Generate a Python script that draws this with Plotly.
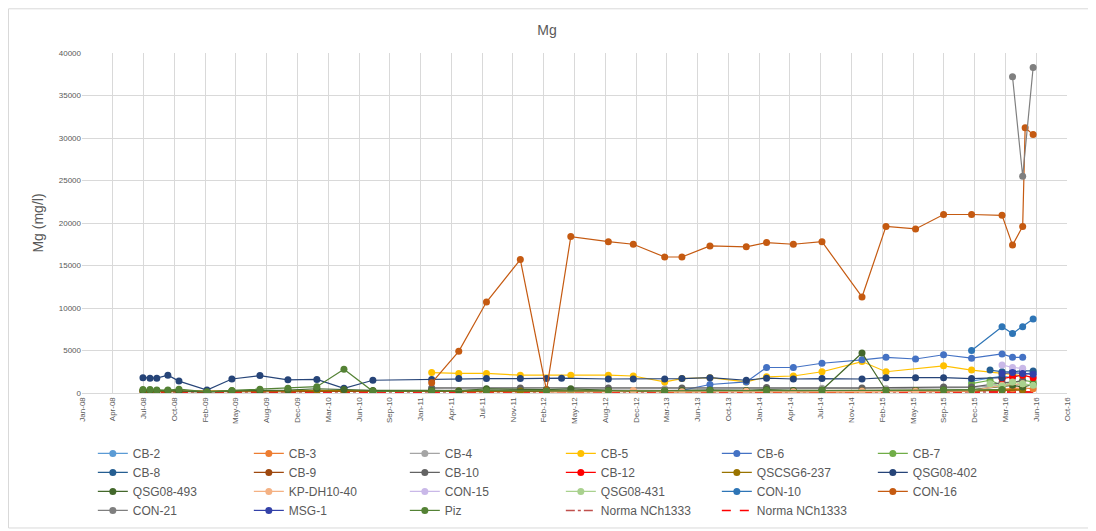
import plotly.graph_objects as go

# fechas de muestreo (campañas)
fechas_ini = ["2008-07-17", "2008-08-09", "2008-08-31", "2008-10-06", "2008-11-11", "2009-02-10",
              "2009-05-02", "2009-08-01", "2009-10-31", "2010-02-02", "2010-05-01", "2010-08-03"]
fechas_fin = ["2011-02-10", "2011-05-09", "2011-08-07", "2011-11-25", "2012-02-18", "2012-04-07",
              "2012-05-07", "2012-09-06", "2012-11-26", "2013-03-08", "2013-05-03", "2013-08-02",
              "2013-11-28", "2014-02-02", "2014-04-30", "2014-08-01", "2014-12-09", "2015-02-25",
              "2015-06-01", "2015-08-31", "2015-11-30", "2016-01-29", "2016-03-08", "2016-04-11",
              "2016-05-14", "2016-05-22", "2016-06-17"]

# Mg (mg/l) por pozo: índices en fechas_fin y valores
cb2_idx = [20, 22, 23, 24, 26]
cb2_mg = [1400, 2000, 1800, 2200, 2400]
cb3_idx = [1, 2, 3, 4, 6, 7, 8, 9, 10, 11, 12, 13, 14, 15, 16, 17, 18, 19, 20, 22, 23, 24, 26]
cb3_mg = [150, 150, 100, 100, 100, 150, 200, 150, 100, 150, 120, 100, 150, 120, 100, 150, 130, 150,
          200, 400, 500, 600, 500]
cb4_idx = [0, 2, 4, 7, 9, 11, 13, 15, 17, 19, 20, 22, 24]
cb4_mg = [500, 450, 400, 450, 500, 450, 500, 550, 500, 600, 650, 900, 1000]
cb5_idx = [0, 1, 2, 3, 6, 7, 8, 9, 10, 11, 12, 13, 14, 15, 16, 17, 19, 20, 22, 23, 24]
cb5_mg = [2400, 2300, 2300, 2100, 2100, 2100, 2000, 1300, 1700, 1800, 1300, 1900, 2000, 2500, 3700,
          2500, 3200, 2700, 2300, 2200, 2000]
cb6_idx = [10, 11, 12, 13, 14, 15, 16, 17, 18, 19, 20, 22, 23, 24]
cb6_mg = [300, 1000, 1300, 3000, 3000, 3500, 3900, 4200, 4000, 4500, 4100, 4600, 4200, 4200]
cb7_idx = [20, 21, 22, 23, 24, 26]
cb7_mg = [1100, 1500, 900, 1200, 1500, 1300]
cb8_idx = [21, 22, 23, 24, 26]
cb8_mg = [2700, 2500, 2500, 2600, 2600]
cb9_ini = [150, 150, 150, 150, 150, 100, 150, 150, 150, 200, 200, 150]
cb9_idx = [0, 2, 4, 7, 9, 11, 13, 15, 17, 19, 20, 22, 24]
cb9_mg = [200, 150, 150, 200, 150, 200, 150, 200, 200, 200, 250, 300, 350]
cb10_idx = [0, 3, 7, 10, 13, 16, 19, 20, 22, 24]
cb10_mg = [600, 600, 600, 600, 650, 600, 700, 700, 1200, 1400]
cb12_idx = [22, 23, 24, 26]
cb12_mg = [1700, 1900, 2100, 1800]
qsc237_ini = [250, 250, 250, 250, 250, 200, 250, 250, 250, 300, 250, 250]
qsc237_idx = [0, 1, 2, 3, 4, 6, 7, 8, 9, 10, 11, 12, 13, 14, 15, 16, 17, 18, 19, 20, 22, 24]
qsc237_mg = [250, 250, 250, 250, 250, 250, 250, 250, 250, 250, 250, 250, 250, 250, 250, 250, 300,
             300, 300, 300, 350, 400]
q402_ini = [1800, 1750, 1750, 2100, 1400, 350, 1650, 2050, 1550, 1600, 550, 1500]
q402_idx = [0, 1, 2, 3, 4, 5, 7, 8, 9, 10, 11, 12, 13, 14, 15, 16, 17, 18, 19, 20, 22]
q402_mg = [1600, 1700, 1700, 1700, 1700, 1750, 1650, 1650, 1650, 1700, 1800, 1500, 1750, 1650,
           1700, 1650, 1800, 1800, 1800, 1700, 1800]
q493_ini = [300, 300, 300, 300, 250, 100, 250, 300, 350, 500, 400, 300]
q493_idx = [0, 1, 2, 4, 6, 7, 9, 10, 11, 12, 13, 14, 15, 16, 17, 18, 19, 20, 22, 23, 24, 26]
q493_mg = [300, 250, 500, 400, 500, 300, 200, 300, 350, 300, 400, 300, 350, 4700, 300, 300, 350,
           400, 800, 900, 700, 1000]
kp_idx = [4, 7, 8, 10, 12, 14, 16, 18, 20, 22, 24]
kp_mg = [100, 150, 300, 150, 200, 150, 200, 200, 250, 900, 1100]
con15_idx = [22, 23, 24]
con15_mg = [3300, 3000, 2900]
q431_idx = [21, 22, 23, 24, 26]
q431_mg = [1100, 800, 1300, 1100, 900]
con10_idx = [20, 22, 23, 24, 26]
con10_mg = [5000, 7800, 7000, 7800, 8700]
con16_idx = [0, 1, 2, 3, 4, 6, 7, 8, 9, 10, 11, 12, 13, 14, 15, 16, 17, 18, 19, 20, 22, 23, 24, 25, 26]
con16_mg = [1200, 4900, 10700, 15700, 300, 18400, 17800, 17500, 16000, 16000, 17300, 17200, 17700,
            17500, 17800, 11300, 19600, 19300, 21000, 21000, 20900, 17400, 19600, 31200, 30400]
con21_idx = [23, 24, 26]
con21_mg = [37200, 25500, 38300]
msg1_idx = [22, 23, 24, 26]
msg1_mg = [2300, 2400, 2300, 2200]
piz_ini = [400, 400, 350, 350, 450, 150, 300, 450, 550, 750, 2800, 200]
piz_idx = [0, 2, 4, 7, 9, 11, 13, 15, 17, 19, 20, 22]
piz_mg = [250, 300, 250, 250, 250, 300, 300, 300, 300, 350, 350, 400]
norma_fechas = ["2008-07-17", "2016-06-17"]
norma_mg = [125, 125]

# nombre, (valores iniciales o None), índices, valores, color
series = [
    ("CB-2", None, cb2_idx, cb2_mg, "#5B9BD5"),
    ("CB-3", None, cb3_idx, cb3_mg, "#ED7D31"),
    ("CB-4", None, cb4_idx, cb4_mg, "#A5A5A5"),
    ("CB-5", None, cb5_idx, cb5_mg, "#FFC000"),
    ("CB-6", None, cb6_idx, cb6_mg, "#4472C4"),
    ("CB-7", None, cb7_idx, cb7_mg, "#70AD47"),
    ("CB-8", None, cb8_idx, cb8_mg, "#255E91"),
    ("CB-9", cb9_ini, cb9_idx, cb9_mg, "#9E480E"),
    ("CB-10", None, cb10_idx, cb10_mg, "#636363"),
    ("CB-12", None, cb12_idx, cb12_mg, "#FF0000"),
    ("QSCSG6-237", qsc237_ini, qsc237_idx, qsc237_mg, "#997300"),
    ("QSG08-402", q402_ini, q402_idx, q402_mg, "#264478"),
    ("QSG08-493", q493_ini, q493_idx, q493_mg, "#43682B"),
    ("KP-DH10-40", None, kp_idx, kp_mg, "#F4B183"),
    ("CON-15", None, con15_idx, con15_mg, "#C9B8E8"),
    ("QSG08-431", None, q431_idx, q431_mg, "#A9D18E"),
    ("CON-10", None, con10_idx, con10_mg, "#2E75B6"),
    ("CON-16", None, con16_idx, con16_mg, "#C55A11"),
    ("CON-21", None, con21_idx, con21_mg, "#7F7F7F"),
    ("MSG-1", None, msg1_idx, msg1_mg, "#3341A8"),
    ("Piz", piz_ini, piz_idx, piz_mg, "#548235"),
]

fig = go.Figure()

# normas primero (quedan debajo), pero al final de la leyenda
fig.add_trace(go.Scatter(
    x=norma_fechas, y=norma_mg, name="Norma NCh1333", mode="lines", legendrank=1100,
    line=dict(color="#C0504D", width=1.5, dash="dashdot"),
))
fig.add_trace(go.Scatter(
    x=norma_fechas, y=norma_mg, name="Norma NCh1333", mode="lines", legendrank=1101,
    line=dict(color="#FF0000", width=1.5, dash="dash"),
))

for k, (nombre, ini, idx, vals, color) in enumerate(series):
    x = [fechas_fin[i] for i in idx]
    y = list(vals)
    if ini is not None:
        x = fechas_ini + x
        y = list(ini) + y
    fig.add_trace(go.Scatter(
        x=x, y=y, name=nombre, mode="lines+markers", legendrank=1000 + k,
        line=dict(color=color, width=1.2),
        marker=dict(color=color, size=7),
    ))

# la página deja 8 px de margen en el body: la figura es 8 px menor
fig.update_layout(
    width=1088,
    height=523,
    margin=dict(l=74, r=29, t=45, b=138, autoexpand=False),
    paper_bgcolor="white",
    plot_bgcolor="white",
    font=dict(family="Liberation Sans, Arial, sans-serif", color="#595959"),
    title=dict(text="Mg", x=0.4954, xref="container", y=0.958, yanchor="middle",
               font=dict(size=14, color="#595959")),
    xaxis=dict(
        type="date",
        range=["2008-01-01", "2016-10-05"],
        tick0="2008-01-01",
        dtick=100 * 86400000,
        tickformat="%b-%y",
        tickangle=-90,
        tickfont=dict(size=8),
        showgrid=True,
        gridcolor="#D9D9D9",
        showline=True,
        linecolor="#D9D9D9",
    ),
    yaxis=dict(
        range=[0, 40000],
        dtick=5000,
        tickformat="d",
        tickfont=dict(size=8),
        showgrid=True,
        gridcolor="#D9D9D9",
        zeroline=True,
        zerolinecolor="#D9D9D9",
        title=dict(text="Mg (mg/l)", font=dict(size=14), standoff=11),
    ),
    legend=dict(
        orientation="h",
        x=0.011,
        xanchor="left",
        y=-0.135,
        yanchor="top",
        font=dict(size=12, color="#595959"),
        entrywidth=111,
        entrywidthmode="pixels",
        itemwidth=30,
        bgcolor="rgba(0,0,0,0)",
    ),
    showlegend=True,
)

# borde del área del gráfico
fig.add_shape(
    type="rect", xref="paper", yref="paper",
    x0=-0.0746, x1=1.0234, y0=-0.397, y1=1.13,
    line=dict(color="#D9D9D9", width=1), fillcolor="rgba(0,0,0,0)",
)

fig.write_html("out.html")
